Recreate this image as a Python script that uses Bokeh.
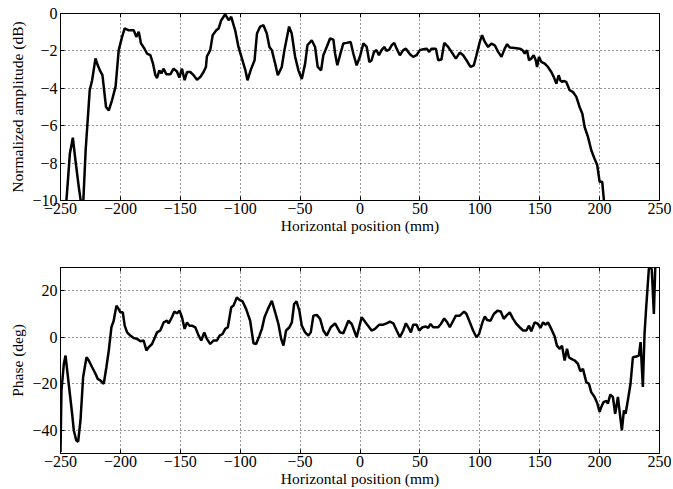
from bokeh.plotting import figure
from bokeh.layouts import column
from bokeh.models import LinearAxis, FixedTicker, Range1d, CustomJSTickFormatter
from bokeh.embed import file_html
from bokeh.resources import INLINE

# ---- data ----
amp_x = [-247, -245.3, -243.6, -242.2, -239.7, -237.5, -234.7, -232.5, -231, -229, -225.6, -223.6, -220.8,
         -218.9, -216.7, -215, -212, -209.7, -207, -204, -201.4, -198.6, -196.4, -193, -188.9, -186.7,
         -184.7, -182.8, -180, -177.8, -175, -172.8, -170.8, -169.4, -167.5, -165.8, -163.9, -161.7,
         -158.3, -155.6, -152.8, -150.8, -148.6, -146.4, -144.4, -141.7, -138.9, -136.1, -133.3, -130.6,
         -128.6, -127.8, -125, -123, -120, -118, -115.8, -112.5, -109.7, -107.5, -104.2, -101.4, -98.6,
         -95.8, -93.9, -91.1, -88, -86, -83.3, -80.6, -77.8, -75.6, -73.6, -70.8, -68.6, -65.3, -63.1,
         -59.2, -57, -54.2, -51.4, -48.6, -45.8, -43.9, -40.3, -37.5, -35.3, -32.5, -30.6, -27.8, -25,
         -22.2, -20.8, -18.9, -16.7, -13.9, -11.1, -7.8, -5.6, -2.8, 0, 2.8, 5.6, 7.8, 9.7, 11.7, 13.9,
         15.8, 18, 20.3, 22.2, 24.4, 26.4, 28.6, 30.6, 33.3, 36.1, 38.3, 41.7, 44.4, 47.2, 50, 52.8,
         55.6, 57.8, 59.7, 63.3, 65.3, 68, 70.3, 73.6, 76.4, 80, 83.3, 86.1, 88.9, 92.2, 95, 97.2, 100,
         101.9, 104.2, 106.9, 109.7, 112.5, 115.3, 118.1, 120.8, 122.8, 125, 129.2, 133.3, 135.6, 137.5,
         139.4, 141.1, 143, 145, 146.7, 147.8, 149.4, 151.4, 154.2, 156.9, 159.7, 161.7, 163.9, 165.8,
         167.2, 168.6, 170, 172.2, 175, 177.8, 180.6, 183.3, 185.6, 187.5, 190.3, 193, 195.8, 198, 200,
         202.2, 203.6, 206]
amp_db = [-12, -10.2, -8.75, -7.5, -6.64, -7.86, -9.3, -10.3, -10.1, -7.3, -4.1, -3.57, -2.4,
          -2.77, -3.1, -3.3, -5.0, -5.18, -4.64, -3.9, -1.96, -1.25, -0.8, -0.9, -0.9, -1.25,
          -0.98, -1.6, -1.87, -2.14, -2.23, -2.68, -3.3, -3.45, -3.04, -3.2, -2.95, -3.25,
          -3.25, -2.95, -3.1, -3.43, -2.95, -3.57, -3.13, -3.13, -3.3, -3.54, -3.4, -3.13,
          -2.86, -2.3, -1.96, -1.16, -0.9, -0.8, -0.36, -0.04, -0.36, -0.18, -0.9, -1.8, -2.4,
          -3.0, -3.57, -3.0, -2.5, -1.07, -0.7, -0.63, -1.07, -1.79, -1.96, -2.68, -3.3, -2.86, -1.96,
          -0.7, -1.07, -2.3, -3.04, -3.5, -2.68, -1.7, -1.43, -1.79, -2.86, -3.04, -2.23, -1.79, -1.34,
          -1.4, -2.14, -2.77, -2.23, -1.6, -1.57, -1.52, -2.14, -2.77, -2.3, -1.6, -1.79, -2.6, -2.5, -2.05, -1.96,
          -2.23, -1.96, -1.79, -2.0, -1.93, -1.7, -1.57, -1.88, -2.23, -1.96, -1.88, -2.18, -2.32, -2.23, -1.96, -1.91,
          -1.88, -2.05, -1.88, -1.88, -2.5, -2.46, -1.57, -1.79, -2.05, -2.41, -2.09, -2.23, -2.5, -2.86, -2.77, -2.23, -1.52,
          -1.16, -1.52, -1.79, -1.61, -1.7, -2.05, -2.32, -1.88, -1.64, -1.82, -1.84, -1.88, -1.96, -2.14,
          -1.96, -2.5, -2.41, -2.23, -2.5, -2.86, -2.32, -2.59, -2.68, -2.86, -3.13, -3.39, -3.75, -3.3,
          -3.57, -3.66, -3.61, -3.66, -4.1, -4.2, -4.46, -5.0, -5.36, -6.07, -6.6, -7.3, -7.77, -8.1, -9.0,
          -9.0, -10.0, -12]

ph_x = [-250, -249.2, -247.2, -245.8, -244.4, -242.2, -240.3, -238.9, -236.9, -235.3, -233.3, -231.1,
        -228.3, -226.4, -223.6, -220.8, -218.9, -216.7, -213.9, -211.7, -209.7, -207.5, -205.6, -203.3,
        -201.4, -200, -198, -196.4, -194.4, -191.7, -188.9, -186.1, -183.3, -180.6, -178.3, -176.4,
        -173.6, -171.4, -169.4, -166.7, -163.9, -161.1, -159.7, -157, -155, -152.8, -150.6, -148.6,
        -146.4, -144.4, -142.5, -140.3, -137.5, -134.7, -132.5, -130, -127.8, -125, -122.2, -119.4,
        -117.2, -114.7, -112.5, -110.3, -107.5, -105.6, -102.8, -100.6, -98, -95, -91.7, -88.9, -86.7,
        -83.9, -81.9, -79.7, -76.9, -73.6, -70.8, -68.1, -65.8, -63.9, -61.7, -58.9, -56.9, -55, -53,
        -50.6, -48.6, -45.8, -43.1, -41.1, -38.9, -36.1, -33.3, -30.6, -27.8, -24.4, -20.8, -16.7,
        -13.9, -9.7, -6.9, -2.8, 1.4, 5.6, 9.7, 12.5, 16.1, 19.4, 22.2, 25, 27.8, 30.6, 33.3, 36.1,
        38.3, 40.3, 42.5, 44.4, 47.2, 49.4, 52.2, 55, 56.9, 58.9, 61.1, 65.3, 67.5, 70.3, 72.8, 75,
        77.8, 80, 83.3, 86.9, 88.9, 91.7, 94.4, 97.2, 99.4, 102.2, 104.2, 106.1, 108.9, 111.7, 114.7,
        117.5, 120, 122.2, 125, 127.8, 130.6, 133.3, 136.1, 138.9, 141.1, 143, 145.8, 148.6, 150.6,
        152.8, 155, 156.9, 159.7, 162.5, 164.4, 166.7, 168.6, 170.8, 172.8, 174.4, 176.4, 179.2,
        181.9, 183.9, 186.1, 188.9, 191.1, 193, 195.8, 198, 200, 201.4, 203.3, 205.6, 206.9, 208.9,
        211.1, 213, 215.3, 216.1, 218.6, 220.3, 221.7, 223.6, 225.8, 227.8, 230.6, 232.8, 234.2,
        236.1, 237.5, 238.9, 241.1, 242.2, 243.6, 245.3, 246.7, 248.6]
ph_deg = [-49.3, -22.9, -11.4, -7.9, -14.3, -24.3, -32.9, -40, -44.3, -45, -35.7, -17.1,
          -8.6, -10, -12.9, -15.7, -17.9, -18.6, -20, -12.9, -5.7, 4.3, 7.1, 13.6,
          12.1, 10.7, 10.7, 5, 2.1, 0.7, -0.3, -0.7, -1.7, -1.4, -5.7, -4.3,
          -2.9, -0.3, 2.1, 2.9, 6.4, 7.1, 6, 8.6, 11, 10.3, 11.4, 8.6,
          3.6, 6.4, 5, 5, 4.3, 0.7, -1.4, 2.1, -0.7, -2.9, -1.4, -1.4,
          0.7, 1.4, 3.6, 4.3, 12.9, 13.6, 17.1, 16.1, 15.4, 12.1, 7.1, -2.6, -2.9,
          0.7, 3.6, 8.6, 12.1, 15.7, 10.7, 5.7, -0.7, -3.6, 2.9, 4.3, 6.4, 14.3, 15.4,
          11.4, 5, 2.1, 0.7, 2.1, 9.3, 9.6, 7.9, 2.9, 0.7, 4.3, 6, 2.1,
          1.7, 7.1, 5.7, 0, 8.6, 5.7, 2.9, 3.6, 5.4, 5.4, 6, 6.7, 6, 2.9, 0, 2.9,
          6, 4.3, 2.1, 5.4, 5.4, 2.9, 4.3, 4.6, 4, 5.7, 4.3, 4.3, 5.7, 8.1, 6.4, 4.3,
          7.1, 9.3, 9.3, 11, 10, 6.4, 2.9, 0, 1.4, 6.4, 8.9, 7.4, 7.1, 10, 11.4,
          11.1, 7.9, 9.3, 10.7, 7.9, 5.7, 4.3, 2.9, 2.9, 5, 2.6, 6.4, 5.7, 4,
          6.4, 5.4, 6.4, 3.6, 0.3, -3.6, -5, -3.6, -10, -5, -8.6, -9.3, -10,
          -11.4, -14.6, -13.6, -19.3, -20, -23.6, -25.7, -28.3, -32.1, -30, -27.9, -27.4, -28.6, -24.7,
          -25.7, -32.9, -25.7, -29.3, -40, -31.4, -32.9, -27.1, -20, -8.6, -8.3, -7.9, -2.1,
          -21.4, 1.4, 12.9, 29.3, 33, 28.6, 10, 34, 36]

x_ticks = [-250, -200, -150, -100, -50, 0, 50, 100, 150, 200, 250]
amp_ticks = [-10, -8, -6, -4, -2, 0]
ph_ticks = [-40, -20, 0, 20]

FONT = "'Liberation Serif', 'Times New Roman', serif"


def lab(v):
    return str(v).replace("-", "\u2212")


def make_fig(ylabel, yrange, yticks, top_border, bottom_border, height):
    p = figure(width=671, height=height, frame_width=599, frame_height=height - top_border - bottom_border,
               output_backend="svg",
               toolbar_location=None, x_range=Range1d(-250, 250), y_range=Range1d(*yrange),
               min_border_left=60, min_border_right=12, min_border_top=top_border,
               min_border_bottom=bottom_border, background_fill_color="white",
               border_fill_color="white")
    p.outline_line_color = "black"
    p.outline_line_width = 1
    p.outline_line_alpha = 1
    for ax, ticks in ((p.xaxis[0], x_ticks), (p.yaxis[0], yticks)):
        ax.ticker = FixedTicker(ticks=ticks)
        ax.major_label_overrides = {t: lab(t) for t in ticks}
        ax.major_tick_in = 4
        ax.major_tick_out = 0
        ax.minor_tick_line_color = None
        ax.axis_line_color = "black"
        ax.major_label_text_font = FONT
        ax.major_label_text_font_size = "16px"
        ax.major_label_text_color = "black"
        ax.axis_label_text_font = FONT
        ax.axis_label_text_font_size = "15.5px"
        ax.axis_label_text_font_style = "normal"
        ax.axis_label_text_color = "black"
    p.xaxis.major_label_standoff = 2
    p.xaxis.axis_label_standoff = 0
    p.yaxis.major_label_standoff = 3
    p.yaxis.axis_label_standoff = 3
    p.xaxis.axis_label = "Horizontal position (mm)"
    p.yaxis.axis_label = ylabel
    p.xgrid.ticker = FixedTicker(ticks=x_ticks)
    p.ygrid.ticker = FixedTicker(ticks=yticks)
    for g in (p.xgrid[0], p.ygrid[0]):
        g.grid_line_color = "black"
        g.grid_line_dash = "1 3"
        g.grid_line_alpha = 0.8
        g.grid_line_width = 1
    # tick marks on the top and right edges (no labels)
    top = LinearAxis(ticker=FixedTicker(ticks=x_ticks), formatter=CustomJSTickFormatter(code="return ''"),
                     major_tick_in=4, major_tick_out=0, minor_tick_line_color=None,
                     major_label_standoff=0)
    right = LinearAxis(ticker=FixedTicker(ticks=yticks), formatter=CustomJSTickFormatter(code="return ''"),
                       major_tick_in=4, major_tick_out=0, minor_tick_line_color=None,
                       major_label_standoff=0)
    p.add_layout(top, "above")
    p.add_layout(right, "right")
    return p


p1 = make_fig("Normalized amplitude (dB)", (-10, 0), amp_ticks, 13, 40, 240)
p1.line(amp_x, amp_db, line_color="black", line_width=2.5)

p2 = make_fig("Phase (deg)", (-50, 30), ph_ticks, 27, 34, 247)
p2.line(ph_x, ph_deg, line_color="black", line_width=2.5)

layout = column(p1, p2, spacing=0)
open("out.html", "w").write(file_html(layout, INLINE))
